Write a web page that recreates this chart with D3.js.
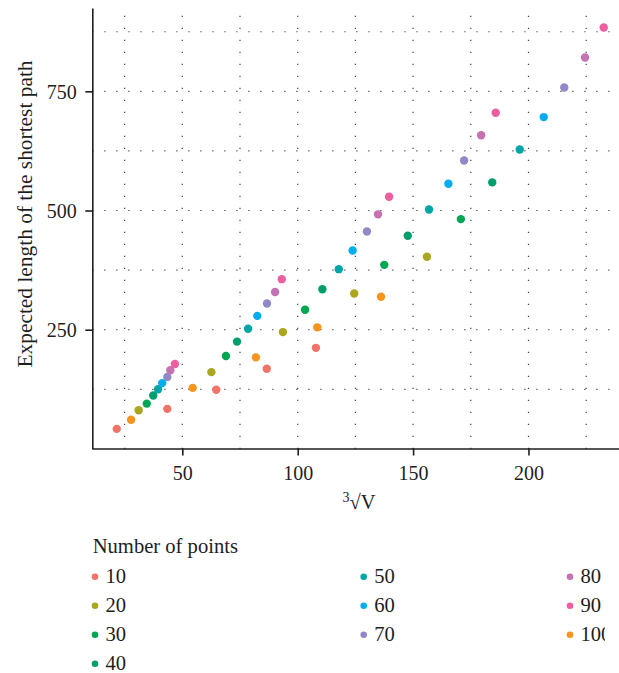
<html>
  <head>
    <script src="https://d3js.org/d3.v7.min.js"></script>
    <style>
      body { margin: 0; background: white; }
      svg { font-family: "Liberation Serif", "DejaVu Serif", serif; }
      .grid line {
        stroke: #444;
        stroke-width: 1.2;
        stroke-dasharray: 1.2, 10.8;
      }
    </style>
  </head>
  <body>
    <script type="text/javascript">
      // number of points per path (legend order)
      var pointCounts = ["10", "20", "30", "40", "50", "60", "70", "80", "90", "100"];

      // cube root of V, one row per series
      var cbrtV = [
        [21.6, 43.5, 64.7, 86.6, 107.9],
        [31.1, 62.6, 93.6, 124.5, 156.0],
        [34.6, 68.9, 103.2, 137.5, 170.7],
        [37.4, 73.7, 110.7, 147.7, 184.3],
        [39.5, 78.5, 117.8, 156.9, 196.2],
        [41.3, 82.5, 123.8, 165.3, 206.6],
        [43.5, 86.7, 130.0, 172.1, 215.5],
        [44.8, 90.2, 134.8, 179.5, 224.5],
        [46.8, 93.1, 139.6, 185.8, 232.6],
        [27.8, 54.5, 81.9, 108.5, 136.1]
      ];

      // expected length of the shortest path, one row per series
      var pathLength = [
        [42, 84, 124, 168, 212],
        [81, 161, 245, 326, 403],
        [95, 195, 292, 386, 482],
        [112, 225, 335, 447, 559],
        [125, 252, 377, 502, 628],
        [138, 279, 416, 556, 696],
        [151, 305, 456, 605, 758],
        [165, 329, 492, 658, 821],
        [178, 356, 529, 705, 884],
        [61, 128, 192, 255, 319]
      ];

      var xTicks = [50, 100, 150, 200];
      var yTicks = [250, 500, 750];
      var xGrid = [25, 50, 75, 100, 125, 150, 175, 200, 225];
      var yGrid = [125, 250, 375, 500, 625, 750, 875];

      var colors = ["#f07468", "#aba620", "#00a651", "#009e6d", "#00a6a6",
                    "#00aeef", "#8f8ac7", "#c572b2", "#ee5fa0", "#f7941d"];

      var width = 619;
      var height = 673;
      var ink = "#1e1e1e";

      var svg = d3.select("body").append("svg")
        .attr("width", width)
        .attr("height", height);

      var x = d3.scaleLinear().domain([11, 240]).range([92.3, 620.8]);
      var y = d3.scaleLinear().domain([0, 925]).range([448.9, 7.9]);

      // flatten into points
      var points = [];
      pointCounts.forEach(function (n, i) {
        cbrtV[i].forEach(function (v, j) {
          points.push({ n: n, idx: i, x: v, y: pathLength[i][j] });
        });
      });

      // dotted grid
      var grid = svg.append("g").attr("class", "grid");
      grid.selectAll(".h").data(yGrid).enter().append("line")
        .attr("x1", x(11)).attr("x2", width)
        .attr("y1", d => y(d)).attr("y2", d => y(d));
      grid.selectAll(".v").data(xGrid).enter().append("line")
        .attr("x1", d => x(d)).attr("x2", d => x(d))
        .attr("y1", y(0)).attr("y2", y(925));

      // axes
      var xAxis = d3.axisBottom(x).tickValues(xTicks).tickSize(7).tickSizeOuter(0);
      var xg = svg.append("g")
        .attr("transform", "translate(0," + 448.5 + ")")
        .call(xAxis);
      xg.select(".domain").attr("stroke", ink).attr("stroke-width", 1.6);
      xg.selectAll(".tick line").attr("stroke", ink).attr("stroke-width", 1.6);
      xg.selectAll(".tick text")
        .attr("y", 31).attr("dy", null)
        .attr("font-size", 20).attr("font-family", "Liberation Serif").attr("fill", ink);

      var yAxis = d3.axisLeft(y).tickValues(yTicks).tickSize(7).tickSizeOuter(0);
      var yg = svg.append("g")
        .attr("transform", "translate(" + 92.3 + ",0)")
        .call(yAxis);
      yg.select(".domain").attr("stroke", ink).attr("stroke-width", 1.6);
      yg.selectAll(".tick line").attr("stroke", ink).attr("stroke-width", 1.6);
      yg.selectAll(".tick text")
        .attr("x", -15.5).attr("dy", "0.34em")
        .attr("font-size", 20).attr("font-family", "Liberation Serif").attr("fill", ink);

      // points
      svg.append("g").selectAll("circle").data(points).enter().append("circle")
        .attr("cx", d => x(d.x))
        .attr("cy", d => y(d.y))
        .attr("r", 4.2)
        .attr("fill", d => colors[d.idx]);

      // axis titles
      svg.append("text")
        .attr("x", 359).attr("y", 509)
        .attr("text-anchor", "middle")
        .attr("font-size", 20.5).attr("fill", ink)
        .html('<tspan font-size="14" dy="-7">3</tspan><tspan dy="7">\u221AV</tspan>');

      svg.append("text")
        .attr("transform", "translate(32,214) rotate(-90)")
        .attr("text-anchor", "middle")
        .attr("font-size", 21.4).attr("fill", ink)
        .text("Expected length of the shortest path");

      // legend (right column is cut off at the figure edge)
      svg.append("clipPath").attr("id", "legendClip")
        .append("rect").attr("x", 0).attr("y", 520).attr("width", 605).attr("height", 160);

      var legend = svg.append("g").attr("clip-path", "url(#legendClip)");
      legend.append("text")
        .attr("x", 92.7).attr("y", 553.3)
        .attr("font-size", 20.6).attr("fill", ink)
        .text("Number of points");

      var colX = [95, 363.7, 570];
      var colOf = [0, 0, 0, 0, 1, 1, 1, 2, 2, 2];
      var rowOf = [0, 1, 2, 3, 0, 1, 2, 0, 1, 2];
      pointCounts.forEach(function (n, i) {
        var cx = colX[colOf[i]];
        var cy = 576.7 + rowOf[i] * 29;
        legend.append("circle")
          .attr("cx", cx).attr("cy", cy).attr("r", 3.3)
          .attr("fill", colors[i]);
        legend.append("text")
          .attr("x", cx + 10.5).attr("y", cy + 5.8)
          .attr("font-size", 20.6).attr("fill", ink)
          .text(n);
      });
    </script>
  </body>
</html>
